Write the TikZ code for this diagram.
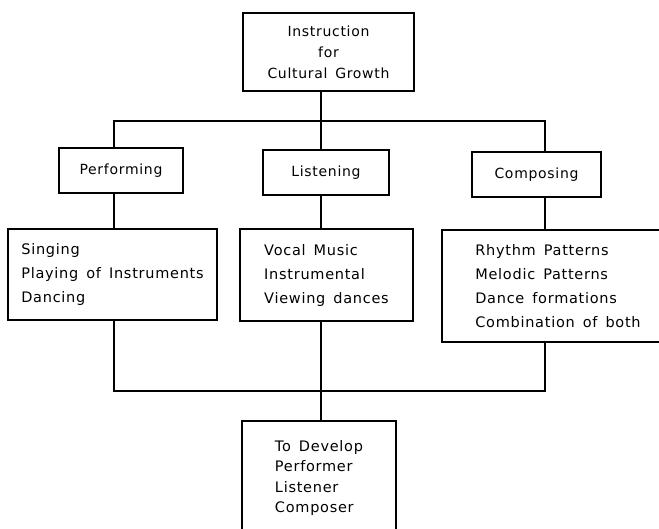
\documentclass[tikz,border=0pt]{standalone}
\usepackage{fontspec}
\setmainfont{DejaVu Sans}[LetterSpace=5,WordSpace=1.5]
\usetikzlibrary{positioning}

\begin{document}
\begin{tikzpicture}[x=1pt,y=-1pt,line width=1.1pt,
  every node/.style={draw,line width=1.1pt,inner sep=0pt,align=center,font=\fontsize{14}{21}\selectfont},
  head/.style={minimum width=126pt,minimum height=45pt},
  list/.style={align=left,font=\fontsize{14.5}{24}\selectfont}]
\useasboundingbox (0,0) rectangle (659,528);
\clip (0,0) rectangle (659,528);
\node[minimum width=171pt,minimum height=78pt] (instr) at (328.5,52) {Instruction\\for\\Cultural Growth};
\node[head,minimum width=124pt] (perf) at (121,170.5) {Performing};
\node[head] (listen) at (326,172.5) {Listening};
\node[head,minimum width=129pt] (comp) at (536.5,174.5) {Composing};
\node[list,minimum width=209pt,minimum height=91pt] (perfList) at (112.5,274.5) {Singing\\Playing of Instruments\\Dancing};
\node[list,minimum width=173pt,minimum height=92pt] (listenList) at (326.5,275) {Vocal Music\\Instrumental\\Viewing dances};
\node[list,minimum width=232pt,minimum height=112pt] (compList) at (558,286) {Rhythm Patterns\\Melodic Patterns\\Dance formations\\Combination of both};
\node[list,minimum width=154pt,minimum height=114pt,font=\fontsize{14.5}{20.5}\selectfont] (goal) at (319,478) {To Develop\\Performer\\Listener\\Composer};
% connector columns and buses
\coordinate (busTop) at (0,121);
\coordinate (busBot) at (0,391);
\coordinate (c1) at (114,0);
\coordinate (c2) at (321,0);
\coordinate (c3) at (545,0);
\draw (instr.south -| c2) -- (c2 |- busTop);
\draw (c1 |- perf.north) -- (c1 |- busTop) -- (c3 |- busTop) -- (c3 |- comp.north);
\draw (c2 |- busTop) -- (c2 |- listen.north);
\draw (c1 |- perf.south) -- (c1 |- perfList.north);
\draw (c2 |- listen.south) -- (c2 |- listenList.north);
\draw (c3 |- comp.south) -- (c3 |- compList.north);
\draw (c1 |- perfList.south) -- (c1 |- busBot) -- (c3 |- busBot) -- (c3 |- compList.south);
\draw (c2 |- listenList.south) -- (c2 |- goal.north);
\end{tikzpicture}
\end{document}
